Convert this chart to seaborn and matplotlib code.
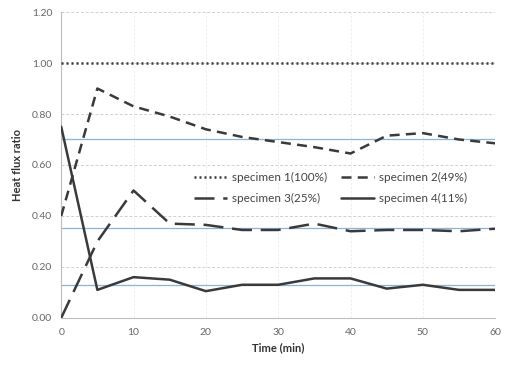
import matplotlib
matplotlib.use("Agg")
import matplotlib.pyplot as plt
import seaborn as sns
import pandas as pd

time = [0, 5, 10, 15, 20, 25, 30, 35, 40, 45, 50, 55, 60]
spec1 = [1.00] * 13
spec2 = [0.40, 0.90, 0.83, 0.79, 0.74, 0.71, 0.69, 0.67, 0.645, 0.715, 0.725, 0.70, 0.685]
spec3 = [0.00, 0.30, 0.50, 0.37, 0.365, 0.345, 0.345, 0.37, 0.34, 0.345, 0.345, 0.34, 0.35]
spec4 = [0.75, 0.11, 0.16, 0.15, 0.105, 0.13, 0.13, 0.155, 0.155, 0.115, 0.13, 0.11, 0.11]
labels = ["specimen 1(100%)", "specimen 2(49%)", "specimen 3(25%)", "specimen 4(11%)"]
ref_levels = [0.70, 0.353, 0.13]
yticks = [0.0, 0.2, 0.4, 0.6, 0.8, 1.0, 1.2]
xticks = [0, 10, 20, 30, 40, 50, 60]

sns.set_theme(style="white")
plt.rcParams["font.family"] = ["Lato", "DejaVu Sans"]

df = pd.DataFrame({
    "Time": time * 4,
    "ratio": spec1 + spec2 + spec3 + spec4,
    "series": sum([[l] * len(time) for l in labels], []),
})

fig = plt.figure(figsize=(5.10, 3.65), dpi=100)
ax = fig.add_axes([0.12, 0.129, 0.851, 0.838])

for yv in yticks[1:]:
    ax.axhline(yv, color="#d0d0d0", lw=0.7, ls=(0, (3, 2)), zorder=0)
for xv in xticks[1:]:
    ax.axvline(xv, color="#ececec", lw=0.6, ls=(0, (3, 2)), zorder=0)
for yv in ref_levels:
    ax.axhline(yv, color="#8db3d3", lw=0.9, zorder=1)

dashes = {
    labels[0]: (0.8, 1.2),
    labels[1]: (4, 2.5),
    labels[2]: (8, 3.5),
    labels[3]: "",
}
sns.lineplot(data=df, x="Time", y="ratio", hue="series", style="series",
             palette=["#3a3a3a"] * 4, dashes=dashes, lw=1.8, ax=ax, zorder=3)

ax.set_xlim(0, 60)
ax.set_ylim(0, 1.2)
ax.set_xticks(xticks)
ax.set_yticks(yticks)
ax.set_yticklabels([f"{v:.2f}" for v in yticks])
ax.tick_params(axis="both", labelsize=7.5, colors="#666666", length=3, width=0.6)
ax.tick_params(axis="x", pad=4)
for s in ["top", "right"]:
    ax.spines[s].set_visible(False)
for s in ["left", "bottom"]:
    ax.spines[s].set_color("#bdbdbd")
    ax.spines[s].set_linewidth(0.8)

ax.set_xlabel("Time (min)", fontsize=8, fontweight="bold", color="#333333", labelpad=4)
ax.set_ylabel("Heat flux ratio", fontsize=8, fontweight="bold", color="#333333", labelpad=6)

handles, labs = ax.get_legend_handles_labels()
order = [0, 2, 1, 3]
leg = ax.legend([handles[i] for i in order], [labs[i] for i in order],
                loc="center", bbox_to_anchor=(0.62, 0.425), ncol=2, frameon=False,
                fontsize=8.5, handlelength=2.8, columnspacing=1.2, handletextpad=0.4,
                labelspacing=0.8)
for t in leg.get_texts():
    t.set_color("#444444")

fig.savefig("out.png", dpi=100)
